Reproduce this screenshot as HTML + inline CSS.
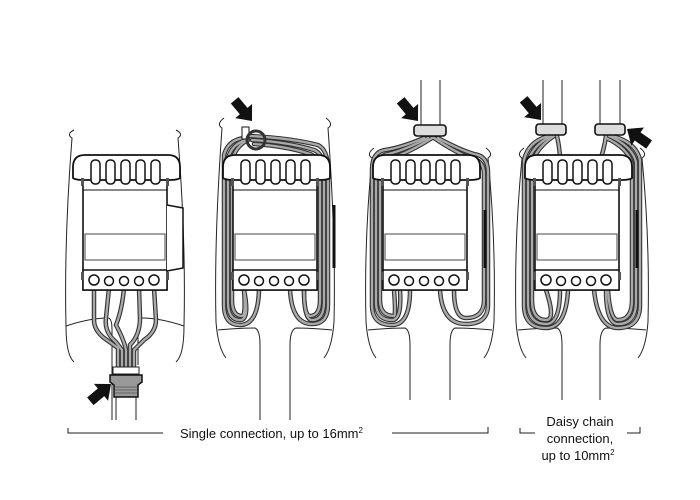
<!DOCTYPE html>
<html><head><meta charset="utf-8"><style>
html,body{margin:0;padding:0;background:#fff;width:700px;height:500px;overflow:hidden}
svg{display:block}
text{font-family:"Liberation Sans",sans-serif;font-size:13px;fill:#111}
</style></head><body>
<svg width="700" height="500" viewBox="0 0 700 500" xmlns="http://www.w3.org/2000/svg">
<defs>
<g id="dev" fill="#fff" stroke="#111">
  <rect x="83" y="178" width="84" height="112" stroke-width="1.6"/>
  <path d="M73,178 L73,167 Q73,155 85,155 L168,155 Q180,155 180,167 L180,178 Q178,180 168,180 L85,180 Q75,180 73,178Z" stroke-width="1.8"/>
  <g stroke-width="1.5">
    <rect x="91" y="160" width="9" height="24" rx="4"/>
    <rect x="106" y="160" width="9" height="24" rx="4"/>
    <rect x="121" y="160" width="9" height="24" rx="4"/>
    <rect x="136" y="160" width="9" height="24" rx="4"/>
    <rect x="151" y="160" width="9" height="24" rx="4"/>
  </g>
  <line x1="83" y1="190" x2="167" y2="190" stroke-width="1"/>
  <rect x="85" y="234" width="80" height="26" stroke-width="1" stroke="#444"/>
  <rect x="83" y="270" width="84" height="20" stroke-width="1.5"/>
  <g stroke-width="1.5">
    <circle cx="94" cy="280" r="5"/><circle cx="109" cy="281" r="4.5"/><circle cx="124" cy="281" r="4.5"/><circle cx="139" cy="281" r="4.5"/><circle cx="154" cy="280" r="5"/>
  </g>
  <rect x="81" y="178" width="3" height="8" fill="#555" stroke="none"/>
  <rect x="166" y="178" width="3" height="8" fill="#555" stroke="none"/>
  <rect x="81" y="272" width="3" height="8" fill="#555" stroke="none"/>
  <rect x="166" y="272" width="3" height="8" fill="#555" stroke="none"/>
</g>
<polygon id="arr" points="0,0 -13,-11 -13,-5 -27,-5 -27,5 -13,5 -13,11" fill="#111"/>
</defs>

<g fill="none" stroke="#222" stroke-width="1">
  <path d="M74,130 Q66,134 72,138 Q64,240 66,326 Q66,355 74,362"/>
  <path d="M66,326 Q90,318 108,318 Q112,318 112,330 L112,420"/>
  <path d="M176,130 Q184,134 178,138 Q186,240 184,326 Q184,355 176,362"/>
  <path d="M184,326 Q160,318 142,318 Q138,318 138,330 L138,365"/>
  <path d="M116,395 L116,420 M136,395 L136,420"/>
</g>
<g fill="none" stroke-linecap="round">
  <g stroke="#333" stroke-width="4.5">
    <path d="M94,288 L94,320 Q94,330 104,338 L118,348 L118,370"/>
    <path d="M109,288 L106,318 Q104,332 116,342 L122,350 L122,370"/>
    <path d="M124,288 Q122,310 116,325 Q124,340 126,350 L126,370"/>
    <path d="M139,288 L140,318 Q140,335 130,345 L130,370"/>
    <path d="M154,288 L156,320 Q156,332 144,340 L134,350 L134,370"/>
  </g>
  <g stroke="#aaa" stroke-width="2.3">
    <path d="M94,288 L94,320 Q94,330 104,338 L118,348 L118,370"/>
    <path d="M109,288 L106,318 Q104,332 116,342 L122,350 L122,370"/>
    <path d="M124,288 Q122,310 116,325 Q124,340 126,350 L126,370"/>
    <path d="M139,288 L140,318 Q140,335 130,345 L130,370"/>
    <path d="M154,288 L156,320 Q156,332 144,340 L134,350 L134,370"/>
  </g>
</g>
<rect x="113" y="367" width="26" height="7" fill="#fff" stroke="#222"/>
<path d="M110,375 L142,375 L142,382 L138,385 L138,397 L114,397 L114,385 L110,382Z" fill="#999" stroke="#111" stroke-width="1.5"/>
<g stroke="#555" stroke-width="0.7"><line x1="115" y1="387" x2="137" y2="387"/><line x1="115" y1="390" x2="137" y2="390"/><line x1="115" y1="393" x2="137" y2="393"/></g>
<use href="#dev"/>
<path d="M167,205 L183,208 L183,268 L167,271" fill="#fff" stroke="#111" stroke-width="1.5"/>

<g fill="none" stroke="#222" stroke-width="1">
  <path d="M224,118 Q216,124 222,128 Q214,240 216,322 Q218,348 226,358"/>
  <path d="M218,330 Q240,328 255,328 Q260,330 260,345 L260,420"/>
  <path d="M326,118 Q334,124 328,128 Q336,240 334,322 Q332,348 324,358"/>
  <path d="M332,330 Q310,328 296,328 Q290,330 290,345 L290,420"/>
  <path d="M374,148 Q366,154 372,158 Q364,240 366,322 Q368,348 376,358"/>
  <path d="M368,330 Q390,328 405,328 Q410,330 410,345 L410,400"/>
  <path d="M486,148 Q494,154 488,158 Q496,240 494,322 Q492,348 484,358"/>
  <path d="M492,330 Q470,328 455,328 Q450,330 450,345 L450,400"/>
  <path d="M421,80 L421,128 M440,80 L440,128"/>
  <path d="M524,148 Q516,154 522,158 Q514,240 516,322 Q518,348 526,358"/>
  <path d="M518,330 Q540,328 557,328 Q562,330 562,345 L562,400"/>
  <path d="M640,148 Q648,154 642,158 Q650,240 648,322 Q646,348 638,358"/>
  <path d="M646,330 Q624,328 606,328 Q600,330 600,345 L600,400"/>
  <path d="M543,80 L543,125 M562,80 L562,125 M600,80 L600,125 M620,80 L620,125"/>
</g>

<g fill="none" stroke-linecap="round">
  <g stroke="#333" stroke-width="4.5">
    <path d="M424,138 Q400,148 385,150 Q372,152 372,170 L372,305 Q372,325 392,325 Q410,325 410,290"/>
    <path d="M428,138 Q405,150 388,154 Q376,156 376,172 L376,302 Q376,320 392,320 Q402,320 400,290"/>
    <path d="M432,138 Q410,152 392,158 Q380,160 380,174 L380,300 Q380,316 394,316 Q396,316 394,290"/>
    <path d="M434,138 Q455,152 470,158 Q484,160 484,174 L484,300 Q484,318 466,318 Q454,318 454,290"/>
    <path d="M438,138 Q460,150 474,154 Q488,156 488,172 L488,305 Q488,324 466,324 Q442,324 440,290"/>
  </g>
  <g stroke="#aaa" stroke-width="2.3">
    <path d="M424,138 Q400,148 385,150 Q372,152 372,170 L372,305 Q372,325 392,325 Q410,325 410,290"/>
    <path d="M428,138 Q405,150 388,154 Q376,156 376,172 L376,302 Q376,320 392,320 Q402,320 400,290"/>
    <path d="M432,138 Q410,152 392,158 Q380,160 380,174 L380,300 Q380,316 394,316 Q396,316 394,290"/>
    <path d="M434,138 Q455,152 470,158 Q484,160 484,174 L484,300 Q484,318 466,318 Q454,318 454,290"/>
    <path d="M438,138 Q460,150 474,154 Q488,156 488,172 L488,305 Q488,324 466,324 Q442,324 440,290"/>
  </g>
  <g stroke="#333" stroke-width="4.5">
    <path d="M244,138 Q228,140 224,155 L224,305 Q224,325 240,325 Q258,325 259,290"/>
    <path d="M246,140 Q232,144 228,158 L228,302 Q228,320 240,320 Q250,320 244,290"/>
    <path d="M248,140 Q236,146 232,160 L232,300 Q232,316 242,316 Q246,316 244,290"/>
    <path d="M250,136 Q290,138 318,145 Q328,150 328,170 L328,305 Q328,324 312,324 Q292,324 290,290"/>
    <path d="M252,140 Q288,142 314,150 Q324,154 324,172 L324,302 Q324,320 312,320 Q304,320 304,290"/>
    <path d="M254,144 Q286,146 310,154 Q320,158 320,174 L320,300 Q320,316 310,316 Q304,316 304,290"/>
  </g>
  <g stroke="#aaa" stroke-width="2.3">
    <path d="M244,138 Q228,140 224,155 L224,305 Q224,325 240,325 Q258,325 259,290"/>
    <path d="M246,140 Q232,144 228,158 L228,302 Q228,320 240,320 Q250,320 244,290"/>
    <path d="M248,140 Q236,146 232,160 L232,300 Q232,316 242,316 Q246,316 244,290"/>
    <path d="M250,136 Q290,138 318,145 Q328,150 328,170 L328,305 Q328,324 312,324 Q292,324 290,290"/>
    <path d="M252,140 Q288,142 314,150 Q324,154 324,172 L324,302 Q324,320 312,320 Q304,320 304,290"/>
    <path d="M254,144 Q286,146 310,154 Q320,158 320,174 L320,300 Q320,316 310,316 Q304,316 304,290"/>
  </g>
  <g stroke="#333" stroke-width="4.5">
    <path d="M548,136 Q528,142 524,160 L524,305 Q524,328 546,328 Q566,328 568,290"/>
    <path d="M551,136 Q532,146 528,162 L528,302 Q528,324 546,324 Q560,324 560,290"/>
    <path d="M554,136 Q536,148 532,164 L532,300 Q532,320 546,320 Q556,320 546,290"/>
    <path d="M557,136 Q560,150 560,160 L600,160 Q604,150 606,136"/>
    <path d="M612,136 Q636,142 640,160 L640,305 Q640,328 618,328 Q598,328 594,290"/>
    <path d="M609,136 Q632,146 636,162 L636,302 Q636,324 618,324 Q606,324 606,290"/>
    <path d="M606,138 Q628,148 632,164 L632,300 Q632,320 618,320 Q610,320 608,290"/>
  </g>
  <g stroke="#aaa" stroke-width="2.3">
    <path d="M548,136 Q528,142 524,160 L524,305 Q524,328 546,328 Q566,328 568,290"/>
    <path d="M551,136 Q532,146 528,162 L528,302 Q528,324 546,324 Q560,324 560,290"/>
    <path d="M554,136 Q536,148 532,164 L532,300 Q532,320 546,320 Q556,320 546,290"/>
    <path d="M557,136 Q560,150 560,160 L600,160 Q604,150 606,136"/>
    <path d="M612,136 Q636,142 640,160 L640,305 Q640,328 618,328 Q598,328 594,290"/>
    <path d="M609,136 Q632,146 636,162 L636,302 Q636,324 618,324 Q606,324 606,290"/>
    <path d="M606,138 Q628,148 632,164 L632,300 Q632,320 618,320 Q610,320 608,290"/>
  </g>
</g>

<use href="#dev" transform="translate(150,0)"/>
<use href="#dev" transform="translate(300,0)"/>
<use href="#dev" transform="translate(452,0)"/>
<g stroke="#111" stroke-width="3"><line x1="334" y1="205" x2="334" y2="268"/><line x1="485" y1="210" x2="485" y2="268"/><line x1="637" y1="210" x2="637" y2="268"/></g>

<g fill="#ddd" stroke="#111" stroke-width="1.6">
  <rect x="414" y="125" width="32" height="11" rx="3"/>
  <rect x="536" y="124" width="30" height="11" rx="3"/>
  <rect x="595" y="124" width="30" height="11" rx="3"/>
</g>
<rect x="242" y="127" width="7" height="12" fill="#fff" stroke="#111"/>
<circle cx="256" cy="140" r="9" fill="none" stroke="#333" stroke-width="3"/>

<use href="#arr" transform="translate(252,121) rotate(50)"/>
<use href="#arr" transform="translate(418,121) rotate(50)"/>
<use href="#arr" transform="translate(541,120) rotate(50)"/>
<use href="#arr" transform="translate(627,129) rotate(215)"/>
<use href="#arr" transform="translate(111,384) rotate(-40)"/>

<g stroke="#222" stroke-width="1" fill="none">
  <path d="M68,428 L68,433 L163,433"/>
  <path d="M392,433 L488,433 L488,427"/>
  <path d="M520,428 L520,433 L535,433"/>
  <path d="M627,433 L640,433 L640,427"/>
</g>
<text x="180" y="438">Single connection, up to 16mm<tspan font-size="8" dy="-5">2</tspan></text>
<text x="580" y="426" text-anchor="middle">Daisy chain</text>
<text x="580" y="443" text-anchor="middle">connection,</text>
<text x="578" y="460" text-anchor="middle">up to 10mm<tspan font-size="8" dy="-5">2</tspan></text>
</svg>
</body></html>
